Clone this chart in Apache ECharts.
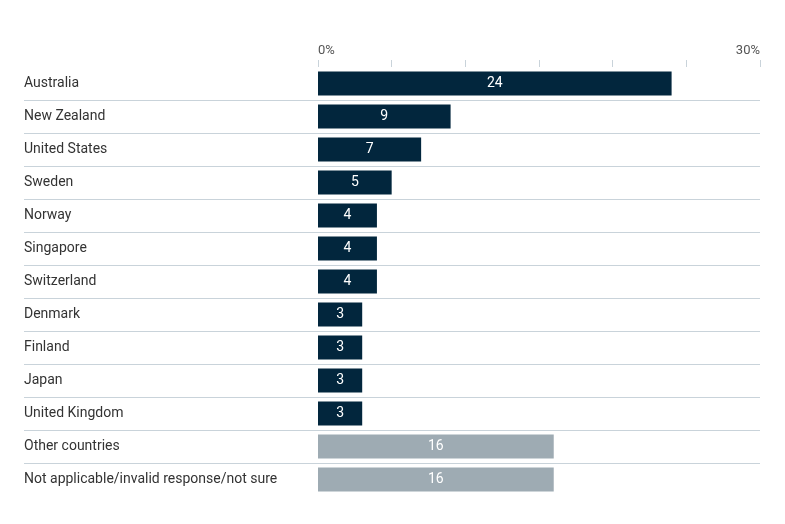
<!DOCTYPE html>
<html>
<head>
<meta charset="utf-8">
<script src="https://cdn.jsdelivr.net/npm/echarts@6/dist/echarts.min.js"></script>
<style>
  html, body { margin: 0; padding: 0; background: #fff; }
  #chart { width: 785px; height: 524px; }
</style>
</head>
<body>
<div id="chart"></div>
<script>
const categories = [
  "Australia", "New Zealand", "United States", "Sweden", "Norway",
  "Singapore", "Switzerland", "Denmark", "Finland", "Japan",
  "United Kingdom", "Other countries", "Not applicable/invalid response/not sure"
];
const values = [24, 9, 7, 5, 4, 4, 4, 3, 3, 3, 3, 16, 16];
const isOther = [false, false, false, false, false, false, false, false, false, false, false, true, true];

const DARK = "#02263d";
const GREY = "#9eabb3";
const LINE = "#c9d3da";
const FONT = "Roboto";

const myChart = echarts.init(document.getElementById("chart"));

let option = {
  animation: false,
  textStyle: { fontFamily: FONT },
  grid: [
    // row separators across the full width
    { left: 24, right: 25, top: 67, bottom: 28 },
    // bars
    { left: 318, right: 25, top: 67, bottom: 28 }
  ],
  xAxis: [
    {
      gridIndex: 0,
      type: "value",
      show: false
    },
    {
      gridIndex: 1,
      type: "value",
      position: "top",
      min: 0,
      max: 30,
      interval: 5,
      axisLine: { show: false },
      axisTick: { show: true, length: 7, lineStyle: { color: LINE } },
      splitLine: { show: false },
      axisLabel: {
        margin: 10,
        fontSize: 13,
        color: "#555",
        fontFamily: FONT,
        alignMinLabel: "left",
        alignMaxLabel: "right",
        formatter: function (v) {
          return v === 0 || v === 30 ? v + "%" : "";
        }
      }
    }
  ],
  yAxis: [
    {
      gridIndex: 0,
      type: "category",
      inverse: true,
      data: categories,
      axisLine: { show: false },
      axisTick: { show: false },
      axisLabel: { show: false },
      splitLine: {
        show: true,
        showMinLine: false,
        showMaxLine: false,
        lineStyle: { color: LINE, width: 1 }
      }
    },
    {
      gridIndex: 1,
      type: "category",
      inverse: true,
      data: categories,
      axisLine: { show: false },
      axisTick: { show: false },
      splitLine: { show: false },
      axisLabel: {
        align: "left",
        margin: 294,
        fontSize: 14,
        color: "#333",
        fontFamily: FONT
      }
    }
  ],
  series: [
    {
      type: "bar",
      xAxisIndex: 1,
      yAxisIndex: 1,
      barWidth: 24,
      data: values.map(function (v, i) {
        return {
          value: v,
          itemStyle: { color: isOther[i] ? GREY : DARK }
        };
      }),
      label: {
        show: true,
        position: "inside",
        color: "#fff",
        fontSize: 14,
        fontFamily: FONT,
        formatter: "{c}"
      }
    }
  ]
};
myChart.setOption(option, true);
</script>
</body>
</html>
